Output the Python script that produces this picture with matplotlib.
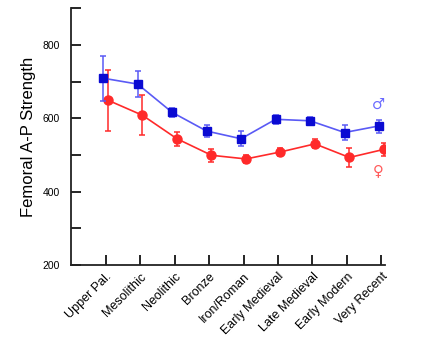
import numpy as np
import matplotlib.pyplot as plt

plt.rcParams['font.family'] = ['Liberation Sans', 'DejaVu Sans']

periods = ['Upper Pal.', 'Mesolithic', 'Neolithic', 'Bronze', 'Iron/Roman',
           'Early Medieval', 'Late Medieval', 'Early Modern', 'Very Recent']

male_mean = [709, 693, 616, 565, 544, 597, 593, 561, 579]
male_lo = [647, 657, 604, 548, 524, 585, 583, 541, 560]
male_hi = [770, 729, 628, 581, 564, 609, 603, 582, 596]

female_mean = [649, 608, 544, 499, 489, 508, 530, 493, 515]
female_lo = [566, 553, 525, 482, 477, 496, 518, 466, 496]
female_hi = [732, 662, 563, 516, 501, 520, 542, 518, 533]

x = np.arange(1, len(periods) + 1)
male_err = [np.subtract(male_mean, male_lo), np.subtract(male_hi, male_mean)]
female_err = [np.subtract(female_mean, female_lo), np.subtract(female_hi, female_mean)]

fig = plt.figure(figsize=(4.23, 3.38), dpi=100)
ax = fig.add_axes([0.168, 0.216, 0.742, 0.76])

blue_line = '#5a5af5'
blue_mark = '#0a0ad2'
red = '#ff2a2a'

ax.errorbar(x - 0.07, male_mean, yerr=male_err, color=blue_line, lw=1.2,
            marker='s', ms=6, mfc=blue_mark, mec=blue_mark,
            ecolor=blue_line, elinewidth=1.1, capsize=2, capthick=1.1, zorder=3)
ax.errorbar(x + 0.07, female_mean, yerr=female_err, color=red, lw=1.2,
            marker='o', ms=6.5, mfc=red, mec=red,
            ecolor=red, elinewidth=1.1, capsize=2, capthick=1.1, zorder=2)

# sex symbols next to the last period
ax.text(8.9, 637, '\u2642', color='#6a6aff', fontsize=10.5, family='DejaVu Sans',
        ha='center', va='center')
ax.text(8.9, 456, '\u2640', color='#ff5a5a', fontsize=10.5, family='DejaVu Sans',
        ha='center', va='center')

ax.set_xlim(0, 9.1)
ax.set_ylim(200, 900)
ax.set_yticks([200, 400, 600, 800])
ax.set_yticks([300, 500, 700, 900], minor=True)
ax.set_xticks(x)
ax.set_xticklabels(periods, rotation=45, ha='right', rotation_mode='anchor', fontsize=9)
ax.tick_params(axis='y', which='both', direction='in', length=7, width=1.2,
               labelsize=7.5, pad=8)
ax.tick_params(axis='x', direction='in', length=7, width=1.2, pad=4)
ax.set_ylabel('Femoral A-P Strength', fontsize=12, labelpad=5)

for side in ['top', 'right']:
    ax.spines[side].set_visible(False)
for side in ['left', 'bottom']:
    ax.spines[side].set_linewidth(1.3)
    ax.spines[side].set_color('#222222')

fig.savefig('out.png', dpi=100)
